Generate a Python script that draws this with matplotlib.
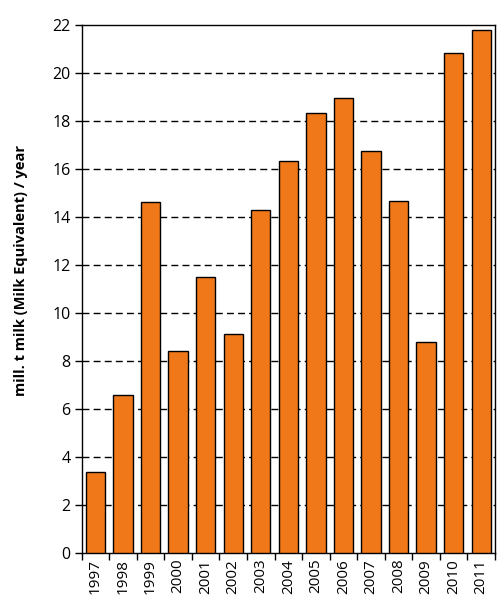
import matplotlib
matplotlib.use("Agg")
import matplotlib.pyplot as plt
import numpy as np

years = ["1997", "1998", "1999", "2000", "2001", "2002", "2003", "2004",
         "2005", "2006", "2007", "2008", "2009", "2010", "2011"]
values = [3.37, 6.58, 14.62, 8.41, 11.5, 9.12, 14.29, 16.33,
          18.33, 18.95, 16.74, 14.66, 8.79, 20.84, 21.78]
yticks = [0, 2, 4, 6, 8, 10, 12, 14, 16, 18, 20, 22]
ylabel = "mill. t milk (Milk Equivalent) / year"

plt.rcParams['font.family'] = ['Open Sans', 'DejaVu Sans']

fig = plt.figure(figsize=(5.01, 6.07), dpi=100)
ax = fig.add_axes([0.163, 0.0885, 0.825, 0.8703])

x = np.arange(len(years))
ax.bar(x, values, width=0.7, color="#F07819", edgecolor="black", linewidth=1.0, zorder=3)

ax.set_xlim(-0.5, len(years) - 0.5)
ax.set_ylim(0, 22)
ax.set_yticks(yticks)
ax.set_yticklabels([str(t) for t in yticks], fontsize=11.5)
for t in yticks[1:-1]:
    ax.axhline(t, color="black", linestyle=(0, (5, 3)), linewidth=1.0, zorder=1)

ax.set_xticks(np.arange(-0.5, len(years), 1.0))
ax.set_xticklabels([])
ax.set_xticks(x, minor=True)
ax.set_xticklabels(years, minor=True, rotation=90, fontsize=11)
ax.tick_params(axis="x", which="minor", length=0, pad=4)
ax.tick_params(axis="x", which="major", length=5, width=1, direction="out")
ax.tick_params(axis="y", length=5, width=1, direction="out", pad=3)

for s in ax.spines.values():
    s.set_linewidth(1.0)
    s.set_color("black")

fig.text(21 / 501, 1 - 271 / 607, ylabel, rotation=90, ha="center", va="center",
         fontsize=10.5, fontweight="bold")

fig.savefig("out.png", dpi=100)
